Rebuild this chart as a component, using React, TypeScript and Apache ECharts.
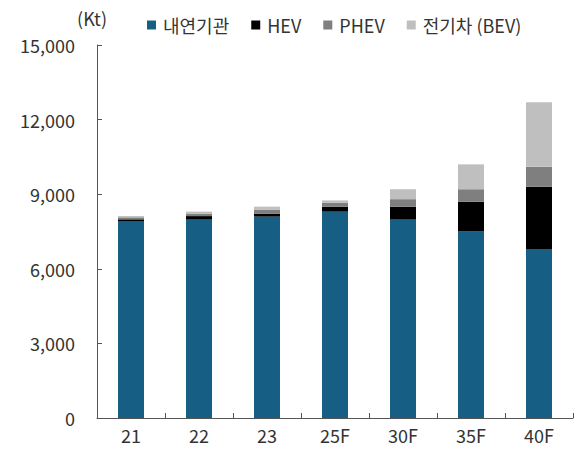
import React, { useEffect, useRef } from "react";
import * as echarts from "echarts";

const categories = ["21", "22", "23", "25F", "30F", "35F", "40F"];
const iceValues = [7900, 8000, 8100, 8300, 8000, 7500, 6800];
const hevValues = [90, 120, 120, 200, 500, 1200, 2500];
const phevValues = [80, 100, 160, 150, 300, 500, 800];
const bevValues = [50, 80, 120, 100, 400, 1000, 2600];
const seriesNames = ["내연기관", "HEV", "PHEV", "전기차 (BEV)"];
const seriesColors = ["#175E85", "#000000", "#7F7F7F", "#BFBFBF"];
const yTicks = { min: 0, max: 15000, interval: 3000 };

const FONT = "'Noto Sans CJK KR', 'Noto Sans', sans-serif";

export default function App() {
  const ref = useRef<HTMLDivElement>(null);
  useEffect(() => {
    document.body.style.margin = "0";
    if (!ref.current) return;
    const chart = echarts.init(ref.current, undefined, { renderer: "svg" });
    const data = [iceValues, hevValues, phevValues, bevValues];
    chart.setOption({
      animation: false,
      textStyle: { fontFamily: FONT },
      legend: {
        top: 11,
        left: 142,
        itemWidth: 9,
        itemHeight: 9,
        itemGap: 22,
        icon: "rect",
        textStyle: { fontSize: 18, color: "#333", fontFamily: FONT, padding: [0, 0, 0, 2] },
        data: seriesNames,
      },
      grid: { left: 97, right: 1, top: 45, bottom: 32, containLabel: false },
      xAxis: {
        type: "category",
        data: categories,
        axisLine: { lineStyle: { color: "#555", width: 1 } },
        axisTick: { show: true, inside: true, length: 5, lineStyle: { color: "#555" } },
        axisLabel: { fontSize: 18, lineHeight: 18, color: "#333", margin: 8, fontFamily: FONT },
      },
      yAxis: {
        type: "value",
        min: yTicks.min,
        max: yTicks.max,
        interval: yTicks.interval,
        name: "(Kt)",
        nameLocation: "end",
        nameGap: 18,
        nameTextStyle: { fontSize: 18, color: "#333", fontFamily: FONT, align: "center", padding: [0, 10, 0, 0] },
        axisLine: { show: true, lineStyle: { color: "#555", width: 1 } },
        axisTick: { show: true, inside: true, length: 5, lineStyle: { color: "#555" } },
        splitLine: { show: false },
        axisLabel: {
          fontSize: 18,
          color: "#333",
          margin: 22,
          fontFamily: FONT,
          formatter: (v: number) => v.toLocaleString("en-US"),
        },
      },
      series: seriesNames.map((name, i) => ({
        name,
        type: "bar",
        stack: "total",
        barWidth: 26,
        itemStyle: { color: seriesColors[i] },
        data: data[i],
      })),
    });
    return () => chart.dispose();
  }, []);
  return <div ref={ref} style={{ width: 574, height: 450 }} />;
}
